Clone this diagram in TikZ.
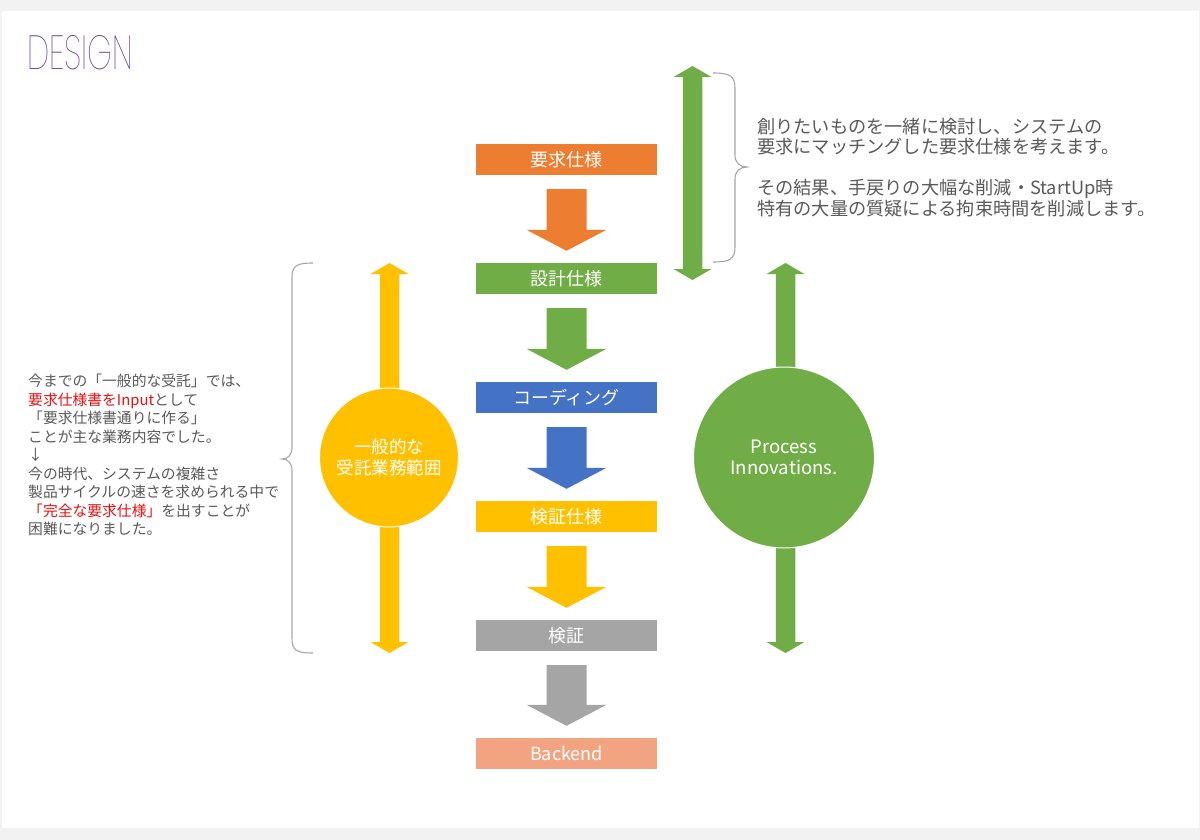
\documentclass[tikz,border=0pt]{standalone}
\usepackage{fontspec}
\setmainfont{Noto Sans CJK JP}
\newfontfamily\logofont{Poppins Thin}
\usetikzlibrary{calc}
\definecolor{cOrange}{HTML}{ED7D31}
\definecolor{cGreen}{HTML}{70AD47}
\definecolor{cBlue}{HTML}{4472C4}
\definecolor{cGold}{HTML}{FFC000}
\definecolor{cGray}{HTML}{A5A5A5}
\definecolor{cSalmon}{HTML}{F2A482}
\definecolor{cFrame}{HTML}{F2F2F2}
\definecolor{cText}{HTML}{595959}
\definecolor{cRed}{HTML}{E81010}
\definecolor{cBrace}{HTML}{A6A6A6}
\definecolor{cLogo}{HTML}{5E2F8E}
\newcommand\flowarrow[3]{%
  \fill[#3] let \p1=(#1.south), \p2=(#2.north) in
    (\x1-20pt,\y1-14pt) -- (\x1+20pt,\y1-14pt) -- (\x1+20pt,\y2+33pt) --
    (\x1+40pt,\y2+33pt) -- (\x1,\y2+12pt) -- (\x1-40pt,\y2+33pt) --
    (\x1-20pt,\y2+33pt) -- cycle;}
\newcommand\dblarrow[4]{%
  \fill[#4] (#1-9.75,#2+11) -- (#1-19,#2+11) -- (#1,#2) -- (#1+19,#2+11) --
    (#1+9.75,#2+11) -- (#1+9.75,#3-11) -- (#1+19,#3-11) -- (#1,#3) --
    (#1-19,#3-11) -- (#1-9.75,#3-11) -- cycle;}
\begin{document}
\begin{tikzpicture}[x=1pt,y=-1pt,
  stepbox/.style={minimum width=181pt, minimum height=31pt, inner sep=0pt,
    text=white, font=\fontsize{18}{20}\selectfont},
  bigcircle/.style={circle, draw=white, line width=1pt, inner sep=0pt,
    text=white, align=center, font=\fontsize{17.5}{21}\selectfont},
  bracepath/.style={draw=cBrace, line width=1.1pt},
  note/.style={text=cText, align=left, inner sep=0pt, anchor=west}]
\useasboundingbox (0,0) rectangle (1200,840);
\fill[cFrame] (0,0) rectangle (1200,840);
\fill[white] (2,11) rectangle (1199,828);

% logo
\node[anchor=north west, inner sep=0pt, text=cLogo] (logo) at (27,35)
  {\resizebox{106pt}{34pt}{\logofont DESIGN}};

% flow boxes
\node[stepbox, fill=cOrange] (req) at (566.5,159.5) {要求仕様};
\node[stepbox, fill=cGreen]  (des) at (566.5,278.5) {設計仕様};
\node[stepbox, fill=cBlue]   (cod) at (566.5,397.5) {コーディング};
\node[stepbox, fill=cGold]   (vsp) at (566.5,516.5) {検証仕様};
\node[stepbox, fill=cGray]   (ver) at (566.5,635.5) {検証};
\node[stepbox, fill=cSalmon] (bak) at (566.5,753.5) {Backend};

\flowarrow{req}{des}{cOrange}
\flowarrow{des}{cod}{cGreen}
\flowarrow{cod}{vsp}{cBlue}
\flowarrow{vsp}{ver}{cGold}
\flowarrow{ver}{bak}{cGray}

% double arrows
\dblarrow{692.5}{66}{280}{cGreen}
\dblarrow{389.5}{263}{653}{cGold}
\dblarrow{785.5}{263}{653}{cGreen}

% circles
\node[bigcircle, fill=cGold, minimum size=139pt] (scope) at (389,457.5)
  {一般的な\\受託業務範囲};
\node[bigcircle, fill=cGreen, minimum size=181pt,
  font=\fontsize{18.5}{21}\selectfont] (innov) at (784,457.5)
  {Process\\Innovations.};

% braces
\draw[bracepath] (713,73) .. controls (730,73) and (735,76) .. (735,88)
  -- (735,155) .. controls (735,163) and (740,167) .. (747,167)
  .. controls (740,167) and (735,171) .. (735,179)
  -- (735,247) .. controls (735,259) and (730,262) .. (713,262);
\draw[bracepath] (313,263) .. controls (296,263) and (292,266) .. (292,278)
  -- (292,447) .. controls (292,455) and (288,459) .. (282,459)
  .. controls (288,459) and (292,463) .. (292,471)
  -- (292,638) .. controls (292,650) and (296,653) .. (313,653);

% notes
\node[note, font=\fontsize{18.2}{20.5}\selectfont] (rnote) at (757,167.5)
  {創りたいものを一緒に検討し、システムの\\
   要求にマッチングした要求仕様を考えます。\\[20.5pt]
   その結果、手戻りの大幅な削減・StartUp時\\
   特有の大量の質疑による拘束時間を削減します。};
\node[note, font=\fontsize{14.8}{18.5}\selectfont] (lnote) at (28,455)
  {今までの「一般的な受託」では、\\
   \textcolor{cRed}{要求仕様書をInput}として\\
   「要求仕様書通りに作る」\\
   ことが主な業務内容でした。\\
   ↓\\
   今の時代、システムの複雑さ\\
   製品サイクルの速さを求められる中で\\
   \textcolor{cRed}{「完全な要求仕様」}を出すことが\\
   困難になりました。};
\end{tikzpicture}
\end{document}
